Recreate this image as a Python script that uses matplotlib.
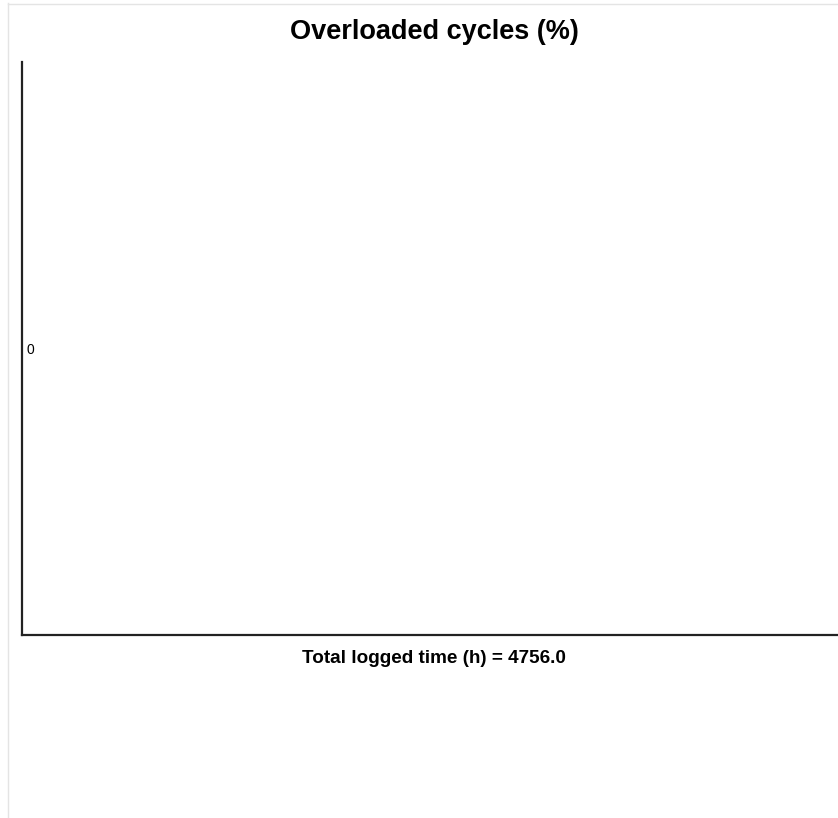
import matplotlib
matplotlib.use("Agg")
import matplotlib.pyplot as plt
from matplotlib.lines import Line2D

plt.rcParams["font.family"] = ["Liberation Sans", "DejaVu Sans"]

# data: no overloaded cycles were logged
cycle_times = []
overload_pct = []
total_hours = 4756.0
y_ticks = [0]
y_tick_labels = ["0"]

W, H = 838, 818
fig = plt.figure(figsize=(W / 100, H / 100), dpi=100)
ax = fig.add_axes([22 / W, 1 - 635 / H, 1 - 22 / W, (635 - 62) / H])

ax.plot(cycle_times, overload_pct, color="#d62728", lw=1.5)
ax.set_ylim(-1, 1)
ax.set_xlim(0, 1)
ax.set_xticks([])
ax.set_yticks(y_ticks)
ax.set_yticklabels(y_tick_labels, ha="left")
ax.tick_params(axis="y", length=0, pad=-3, labelsize=10)

for s in ("top", "right"):
    ax.spines[s].set_visible(False)
for s in ("left", "bottom"):
    ax.spines[s].set_linewidth(1.6)
    ax.spines[s].set_color("#222222")

ax.set_title("Overloaded cycles (%)", fontsize=19.5, fontweight="bold", pad=16.5, x=0.505)
ax.set_xlabel("Total logged time (h) = %.1f" % total_hours, fontsize=13.6,
              fontweight="bold")
ax.xaxis.set_label_coords(0.505, -0.026, transform=ax.transAxes)
ax.xaxis.label.set_va("top")

# faint page frame
fig.add_artist(Line2D([7.5 / W, 7.5 / W], [0, 1 - 3 / H], color="#e4e4e4", lw=1))
fig.add_artist(Line2D([7.5 / W, 1], [1 - 3.5 / H, 1 - 3.5 / H], color="#e4e4e4", lw=1))

fig.savefig("out.png", dpi=100, facecolor="white")
